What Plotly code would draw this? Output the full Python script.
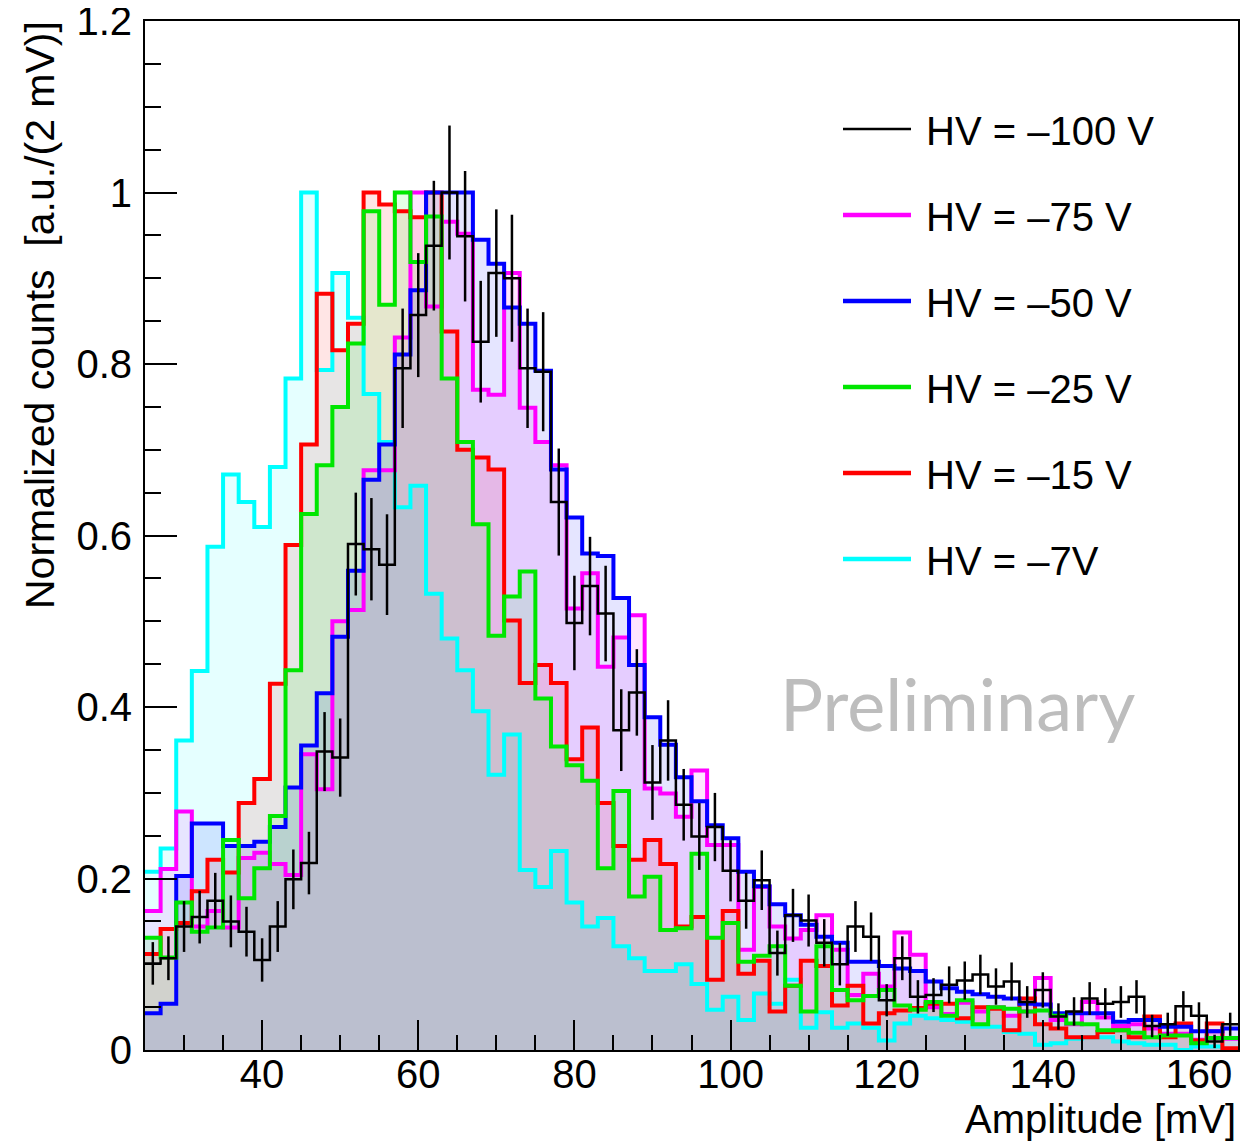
import math
import plotly.graph_objects as go

# ---- data (normalized counts per 2 mV bin) ----
bin_lo, bin_w, n_bins = 25, 2, 70
amp_centers = [26 + 2 * i for i in range(n_bins)]
y_tick_vals = [0, 0.2, 0.4, 0.6, 0.8, 1.0, 1.2]
y_tick_text = ["0", "0.2", "0.4", "0.6", "0.8", "1", "1.2"]

hv_labels = ["HV = \u2013100 V", "HV = \u201375 V", "HV = \u201350 V",
             "HV = \u201325 V", "HV = \u201315 V", "HV = \u20137V"]

hv100 = [0.101, 0.107, 0.144, 0.155, 0.174, 0.150, 0.138, 0.105, 0.144, 0.199,
         0.218, 0.348, 0.341, 0.590, 0.584, 0.566, 0.795, 0.857, 0.938, 1.000,
         0.949, 0.826, 0.906, 0.900, 0.795, 0.791, 0.639, 0.498, 0.541, 0.509,
         0.373, 0.417, 0.312, 0.361, 0.286, 0.249, 0.260, 0.209, 0.174, 0.198,
         0.113, 0.157, 0.151, 0.125, 0.100, 0.144, 0.132, 0.058, 0.107, 0.062,
         0.064, 0.076, 0.081, 0.088, 0.074, 0.080, 0.056, 0.070, 0.039, 0.045,
         0.060, 0.054, 0.056, 0.062, 0.028, 0.030, 0.051, 0.040, 0.010, 0.030]
hv100_peak_counts = 164

hv75 = [0.162, 0.211, 0.278, 0.144, 0.162, 0.143, 0.224, 0.230, 0.217, 0.204,
        0.345, 0.304, 0.500, 0.513, 0.676, 0.676, 0.831, 1.000, 0.867, 0.966,
        0.952, 0.770, 0.764, 0.906, 0.749, 0.709, 0.682, 0.515, 0.556, 0.447,
        0.481, 0.507, 0.305, 0.299, 0.272, 0.326, 0.239, 0.239, 0.117, 0.190,
        0.144, 0.130, 0.140, 0.157, 0.117, 0.064, 0.089, 0.074, 0.137, 0.111,
        0.050, 0.042, 0.055, 0.045, 0.050, 0.040, 0.045, 0.084, 0.035, 0.030,
        0.056, 0.038, 0.028, 0.030, 0.025, 0.019, 0.019, 0.012, 0.022, 0.013]

hv50 = [0.043, 0.054, 0.203, 0.264, 0.264, 0.238, 0.238, 0.243, 0.260, 0.306,
        0.355, 0.416, 0.482, 0.559, 0.665, 0.706, 0.811, 0.886, 1.000, 1.000,
        1.000, 0.945, 0.917, 0.866, 0.847, 0.792, 0.677, 0.621, 0.579, 0.576,
        0.527, 0.449, 0.388, 0.356, 0.318, 0.290, 0.262, 0.247, 0.208, 0.191,
        0.170, 0.157, 0.146, 0.132, 0.125, 0.103, 0.103, 0.098, 0.095, 0.092,
        0.080, 0.072, 0.068, 0.065, 0.062, 0.060, 0.054, 0.053, 0.043, 0.043,
        0.043, 0.043, 0.033, 0.035, 0.035, 0.027, 0.027, 0.022, 0.022, 0.025]

hv25 = [0.131, 0.108, 0.172, 0.138, 0.143, 0.245, 0.177, 0.212, 0.273, 0.443,
        0.625, 0.682, 0.750, 0.824, 0.978, 0.869, 1.000, 0.919, 0.972, 0.783,
        0.709, 0.613, 0.483, 0.529, 0.558, 0.410, 0.354, 0.332, 0.314, 0.212,
        0.302, 0.179, 0.202, 0.140, 0.142, 0.229, 0.131, 0.148, 0.103, 0.110,
        0.121, 0.075, 0.045, 0.121, 0.070, 0.058, 0.063, 0.070, 0.052, 0.047,
        0.056, 0.040, 0.058, 0.030, 0.050, 0.048, 0.045, 0.046, 0.040, 0.031,
        0.030, 0.023, 0.023, 0.020, 0.015, 0.017, 0.017, 0.008, 0.014, 0.014]

hv15 = [0.112, 0.141, 0.148, 0.185, 0.222, 0.207, 0.288, 0.316, 0.427, 0.589,
        0.706, 0.882, 0.816, 0.847, 1.000, 0.986, 0.978, 0.971, 1.000, 0.838,
        0.700, 0.691, 0.677, 0.501, 0.428, 0.449, 0.428, 0.339, 0.376, 0.288,
        0.238, 0.222, 0.245, 0.217, 0.144, 0.155, 0.082, 0.162, 0.089, 0.104,
        0.045, 0.075, 0.104, 0.098, 0.052, 0.075, 0.031, 0.043, 0.046, 0.049,
        0.054, 0.054, 0.037, 0.050, 0.048, 0.023, 0.060, 0.030, 0.025, 0.015,
        0.015, 0.021, 0.023, 0.015, 0.039, 0.015, 0.031, 0.011, 0.031, 0.002]

hv7 = [0.208, 0.235, 0.361, 0.442, 0.587, 0.671, 0.639, 0.610, 0.680, 0.783,
       1.000, 0.793, 0.906, 0.854, 0.765, 0.709, 0.633, 0.658, 0.532, 0.480,
       0.443, 0.395, 0.321, 0.368, 0.210, 0.190, 0.232, 0.172, 0.144, 0.154,
       0.121, 0.107, 0.092, 0.092, 0.100, 0.077, 0.047, 0.062, 0.035, 0.066,
       0.054, 0.082, 0.026, 0.044, 0.026, 0.031, 0.026, 0.011, 0.031, 0.040,
       0.037, 0.035, 0.033, 0.027, 0.027, 0.021, 0.019, 0.006, 0.008, 0.013,
       0.015, 0.015, 0.010, 0.008, 0.006, 0.006, 0.000, 0.004, 0.004, 0.000]

# ---- figure ----
edges = [bin_lo + bin_w * i for i in range(n_bins + 1)]

def step(vals):
    return vals + [vals[-1]]

series = [  # (values, line rgb, fill rgb, legend index) in drawing order
    (hv7, (0, 255, 255), (0, 255, 255), 5),
    (hv75, (255, 0, 255), (255, 0, 255), 1),
    (hv15, (255, 0, 0), (255, 0, 0), 4),
    (hv50, (0, 0, 255), (0, 0, 255), 2),
    (hv25, (0, 230, 0), (0, 255, 0), 3),
]

fig = go.Figure()
# fills first (so every outline stays on top)
for vals, lrgb, frgb, li in series:
    fr, fg, fb = frgb
    fig.add_trace(go.Scatter(
        x=edges, y=step(vals), mode="lines", line_shape="hv",
        line=dict(width=0, color=f"rgba({fr},{fg},{fb},0)"),
        fill="tozeroy", fillcolor=f"rgba({fr},{fg},{fb},0.1)",
        showlegend=False, hoverinfo="skip"))
# outlines
for vals, lrgb, frgb, li in series:
    r, g, b = lrgb
    fig.add_trace(go.Scatter(
        x=edges, y=step(vals), mode="lines", line_shape="hv",
        line=dict(color=f"rgb({r},{g},{b})", width=4),
        name=hv_labels[li], showlegend=False, hoverinfo="skip"))

# black histogram (step + Poisson error bars)
fig.add_trace(go.Scatter(
    x=edges, y=step(hv100), mode="lines", line_shape="hv",
    line=dict(color="black", width=2.5), name=hv_labels[0],
    showlegend=False, hoverinfo="skip"))
err100 = [math.sqrt(v * hv100_peak_counts) / hv100_peak_counts for v in hv100]
fig.add_trace(go.Scatter(
    x=amp_centers, y=hv100, mode="markers",
    marker=dict(size=1, color="black"),
    error_y=dict(type="data", array=err100, color="black", thickness=2.5, width=0),
    showlegend=False, hoverinfo="skip"))

# ---- manual legend (ROOT style) ----
# pixel positions below are screenshot pixels; the page body adds an 8 px offset
OFF = 8
X0, X1, YB, YT = 145.0, 1238.0, 1050.0, 21.0
def px(xp):
    return (xp - X0) / (X1 - X0)
def py(yp):
    return (YB - yp) / (YB - YT)

leg_colors = ["black", "rgb(255,0,255)", "rgb(0,0,255)", "rgb(0,230,0)",
              "rgb(255,0,0)", "rgb(0,255,255)"]
leg_y = [129, 215, 301, 387, 473, 559]
for lab, col, yy in zip(hv_labels, leg_colors, leg_y):
    fig.add_shape(type="line", xref="paper", yref="paper",
                  x0=px(843), x1=px(911), y0=py(yy), y1=py(yy),
                  line=dict(color=col, width=2.5 if col == "black" else 4.5))
    fig.add_annotation(xref="paper", yref="paper", x=px(924), y=py(yy + 2),
                       xanchor="left", yanchor="middle", showarrow=False,
                       text=lab, font=dict(family="Liberation Sans, Arial", size=40, color="black"))

fig.add_annotation(xref="paper", yref="paper", x=px(957), y=py(703),
                   xanchor="center", yanchor="middle", showarrow=False,
                   text="Preliminary", font=dict(family="Lato", size=72, color="#BDBDBD"))

fig.add_annotation(xref="paper", yref="paper", x=px(40), y=py(315),
                   xanchor="center", yanchor="middle", showarrow=False, textangle=-90,
                   text="Normalized counts \u00a0[a.u./(2 mV)]",
                   font=dict(family="Liberation Sans, Arial", size=41, color="black"))

fig.add_annotation(xref="paper", yref="paper", x=1.0, y=py(1119),
                   xanchor="right", yanchor="middle", showarrow=False,
                   text="Amplitude [mV]",
                   font=dict(family="Liberation Sans, Arial", size=40, color="black"))

axis_common = dict(showline=True, linecolor="black", linewidth=2, mirror=True,
                   ticks="inside", tickcolor="black", tickwidth=2,
                   showgrid=False, zeroline=False, automargin=False,
                   tickfont=dict(family="Liberation Sans, Arial", size=40, color="black"))

fig.update_layout(
    width=1253 - OFF, height=1142 - OFF,
    margin=dict(l=145 - OFF, r=15, t=21 - OFF, b=92),
    paper_bgcolor="white", plot_bgcolor="white",
    xaxis=dict(range=[25, 165], tick0=0, dtick=20, ticklen=30,
               ticklabelstandoff=-12,
               minor=dict(dtick=5, tick0=0, ticklen=15, ticks="inside",
                          tickcolor="black", tickwidth=2),
               **axis_common),
    yaxis=dict(range=[0, 1.2], tickmode="array", tickvals=y_tick_vals,
               ticktext=y_tick_text, ticklen=32, ticklabelstandoff=3,
               ticklabeloverflow="allow",
               minor=dict(dtick=0.05, tick0=0, ticklen=16, ticks="inside",
                          tickcolor="black", tickwidth=2),
               **axis_common),
)

fig.write_html("out.html")
